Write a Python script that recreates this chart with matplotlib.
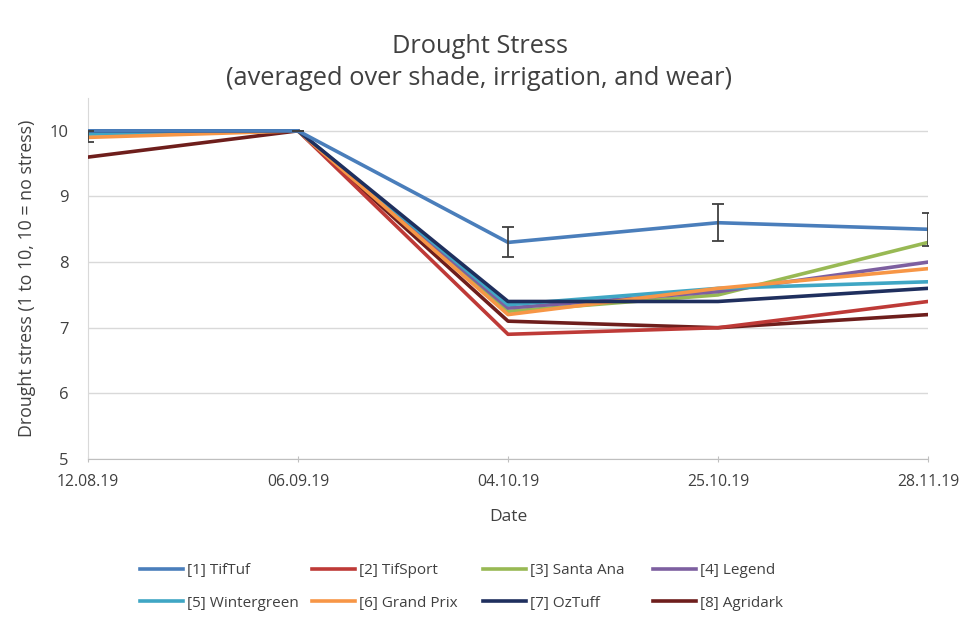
import matplotlib
matplotlib.use("Agg")
import matplotlib.pyplot as plt
import numpy as np

dates = ["12.08.19", "06.09.19", "04.10.19", "25.10.19", "28.11.19"]
tiftuf = [10.0, 10.0, 8.3, 8.6, 8.5]
tiftuf_err_low = [0.17, 0.0, 0.23, 0.28, 0.25]
tiftuf_err_high = [0.0, 0.0, 0.23, 0.28, 0.25]
tifsport = [10.0, 10.0, 6.9, 7.0, 7.4]
santa_ana = [10.0, 10.0, 7.25, 7.5, 8.3]
legend_ = [10.0, 10.0, 7.3, 7.55, 8.0]
wintergreen = [9.95, 10.0, 7.35, 7.6, 7.7]
grand_prix = [9.9, 10.0, 7.2, 7.6, 7.9]
oztuff = [10.0, 10.0, 7.4, 7.4, 7.6]
agridark = [9.6, 10.0, 7.1, 7.0, 7.2]

names = ["[1] TifTuf", "[2] TifSport", "[3] Santa Ana", "[4] Legend",
         "[5] Wintergreen", "[6] Grand Prix", "[7] OzTuff", "[8] Agridark"]
series = [tiftuf, tifsport, santa_ana, legend_, wintergreen, grand_prix, oztuff, agridark]
colors = ["#4A7EBB", "#BE3A37", "#98B954", "#7D5FA0", "#3FA6C4", "#F79646", "#1F2F5E", "#6E1E1C"]

plt.rcParams['font.family'] = ['Open Sans', 'DejaVu Sans']
fig = plt.figure(figsize=(9.59, 6.18), dpi=100)
ax = fig.add_axes([0.0918, 0.2573, 0.8759, 0.5841])
x = np.arange(len(dates))

draw_order = [7, 1, 2, 3, 4, 5, 6, 0]
handles = {}
for i in draw_order:
    ln, = ax.plot(x, series[i], color=colors[i], lw=2.6, label=names[i], zorder=3 + (i == 0))
    handles[i] = ln
ax.errorbar(x, tiftuf, yerr=[tiftuf_err_low, tiftuf_err_high], fmt='none', ecolor='#404040',
            elinewidth=1.3, capsize=4, capthick=1.3, zorder=5)

ax.set_xlim(0, len(dates) - 1)
ax.set_ylim(5, 10.5)
ax.set_yticks([5, 6, 7, 8, 9, 10])
ax.set_xticks(x)
ax.set_xticklabels(dates)
ax.grid(axis='y', color='#D9D9D9', lw=1)
ax.set_axisbelow(True)
for s in ['top', 'right']:
    ax.spines[s].set_visible(False)
ax.spines['left'].set_color('#D9D9D9')
ax.spines['bottom'].set_color('#BFBFBF')
ax.tick_params(axis='y', length=0, labelsize=12, colors='#404040', pad=14)
ax.tick_params(axis='x', length=5, direction='inout', color='#BFBFBF', labelsize=11.3,
               colors='#404040', pad=8)
ax.set_xlabel("Date", fontsize=12.5, color='#404040', labelpad=14)
ax.set_ylabel("Drought stress (1 to 10, 10 = no stress)", fontsize=12.8, color='#404040', labelpad=10)
fig.suptitle("Drought Stress\n(averaged over shade, irrigation, and wear)", fontsize=18.3,
             color='#404040', y=0.945, linespacing=1.35)

# Legend: four equal-width columns, filled row-wise
col_x = [140, 312, 483, 653]
for c in range(4):
    idx = [c, c + 4]
    fig.legend([handles[i] for i in idx], [names[i] for i in idx], loc='upper left',
               frameon=False, fontsize=11, bbox_to_anchor=(col_x[c] / 959, 1 - 563 / 618),
               borderaxespad=0, borderpad=0, handlelength=2.8, labelcolor='#404040',
               handletextpad=0.27, labelspacing=1.15)

fig.savefig("out.png", dpi=100)
